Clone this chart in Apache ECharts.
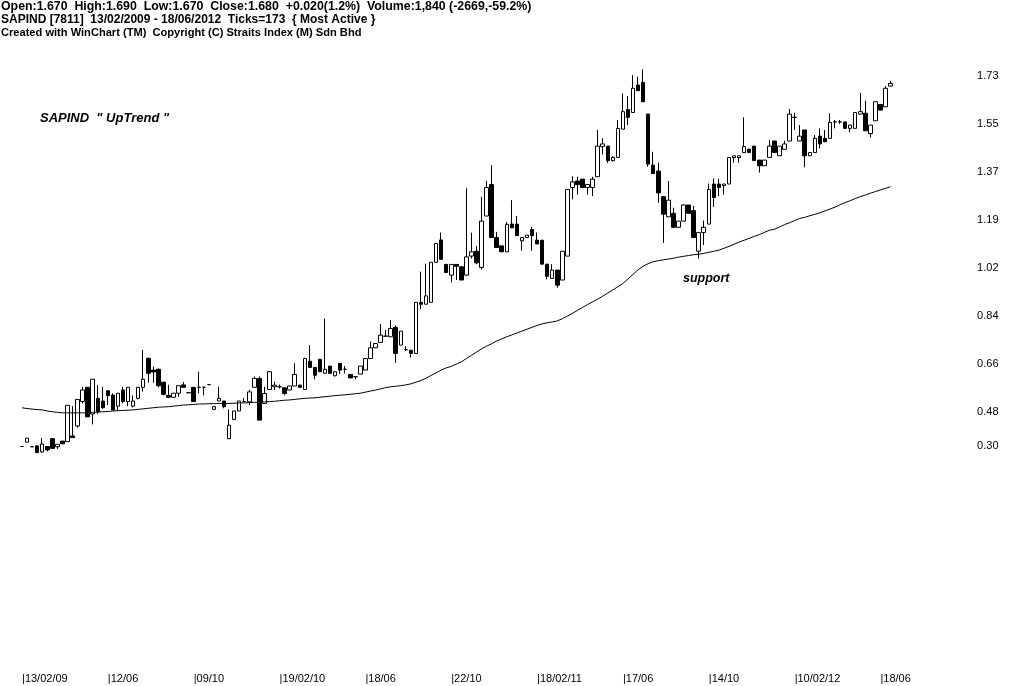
<!DOCTYPE html>
<html>
<head>
<meta charset="utf-8">
<script src="https://cdn.jsdelivr.net/npm/echarts@6/dist/echarts.min.js"></script>
<style>
html,body{margin:0;padding:0;background:#fff;}
#chart{width:1024px;height:686px;}
</style>
</head>
<body>
<div id="chart"></div>
<script>
// ---- data (weekly bars, 173 ticks) ----
const xTickLabels = ['13/02/09','12/06','09/10','19/02/10','18/06','22/10','18/02/11','17/06','14/10','10/02/12','18/06'];
const yTickLabels = ['0.30','0.48','0.66','0.84','1.02','1.19','1.37','1.55','1.73'];

const opens = [
.33,.346,.329,.332,.31,.33,.359,.329,.35,.348,
.369,.406,.497,.55,.451,.509,.499,.537,.521,.48,
.54,.497,.48,.509,.55,.658,.614,.617,.569,.52,
.513,.528,.559,.53,.55,.55,.55,.56,.468,.499,
.499,.359,.43,.462,.497,.496,.55,.583,.49,.542,
.552,.552,.548,.54,.555,.558,.542,.647,.624,.654,
.602,.629,.593,.639,.617,.598,.589,.599,.614,.657,
.697,.717,.74,.738,.773,.707,.69,.688,.676,.866,
.859,.866,1.015,1.098,1.007,.967,1.007,.998,.967,1.038,
1.056,.996,1.187,1.304,1.107,1.076,1.054,1.157,1.157,1.095,
1.107,1.137,1.097,1.097,1.008,.955,.986,.949,1.038,1.293,
1.317,1.324,1.293,1.293,1.333,1.445,1.447,1.393,1.405,1.51,
1.583,1.572,1.674,1.684,1.566,1.376,1.354,1.259,1.184,1.197,
1.145,1.168,1.228,1.207,1.056,1.126,1.157,1.306,1.306,1.30,
1.306,1.404,1.404,1.423,1.436,1.447,1.395,1.374,1.405,1.466,
1.411,1.435,1.466,1.554,1.466,1.507,1.411,1.423,1.484,1.476,
1.476,1.537,1.537,1.537,1.513,1.513,1.566,1.569,1.494,1.541,
1.602,1.593,1.67];

const closes = [
.33,.361,.329,.307,.339,.317,.323,.338,.34,.483,
.363,.505,.54,.44,.58,.459,.474,.519,.466,.528,
.497,.55,.499,.55,.58,.602,.607,.556,.524,.513,
.528,.556,.55,.53,.497,.55,.55,.56,.478,.509,
.478,.409,.462,.499,.497,.533,.583,.428,.527,.608,
.558,.552,.527,.555,.598,.55,.657,.624,.595,.608,
.617,.602,.608,.614,.617,.585,.589,.629,.657,.697,
.713,.744,.74,.769,.676,.759,.69,.676,.866,.859,
.89,1.015,1.085,1.026,.977,1.007,1.0,.949,1.035,1.054,
1.013,1.168,1.293,1.107,1.07,1.054,1.156,1.143,1.114,1.107,
1.116,1.114,1.083,1.008,.963,.986,.93,1.056,1.286,1.314,
1.304,1.293,1.304,1.324,1.447,1.455,1.393,1.405,1.513,1.575,
1.554,1.662,1.653,1.612,1.38,1.345,1.273,1.194,1.246,1.145,
1.168,1.228,1.197,1.107,1.126,1.145,1.286,1.256,1.293,1.306,
1.405,1.411,1.411,1.445,1.423,1.393,1.374,1.395,1.447,1.423,
1.447,1.455,1.566,1.554,1.484,1.411,1.423,1.476,1.455,1.463,
1.535,1.537,1.537,1.513,1.525,1.572,1.575,1.504,1.525,1.612,
1.581,1.662,1.68];

const lows = [
.33,.346,.329,.307,.307,.312,.323,.321,.34,.348,
.363,.40,.49,.44,.412,.45,.47,.484,.466,.462,
.49,.48,.475,.505,.534,.567,.567,.55,.52,.51,
.513,.515,.55,.53,.497,.528,.52,.56,.468,.499,
.472,.358,.43,.462,.497,.484,.55,.428,.49,.542,
.54,.545,.52,.54,.555,.55,.542,.624,.58,.608,
.602,.602,.59,.60,.602,.585,.58,.599,.614,.657,
.697,.717,.74,.738,.641,.707,.686,.661,.676,.84,
.859,.866,1.015,1.026,.977,.94,.949,.949,.967,1.029,
1.008,.988,1.187,1.107,1.07,1.054,1.054,1.143,1.114,1.058,
1.107,1.058,1.083,1.008,.951,.955,.92,.949,1.038,1.249,
1.267,1.293,1.267,1.261,1.333,1.416,1.385,1.389,1.405,1.51,
1.525,1.572,1.653,1.612,1.37,1.345,1.236,1.087,1.184,1.145,
1.145,1.168,1.197,1.107,1.029,1.079,1.157,1.221,1.261,1.267,
1.306,1.385,1.385,1.423,1.423,1.393,1.349,1.374,1.405,1.423,
1.411,1.435,1.466,1.507,1.466,1.368,1.411,1.423,1.438,1.463,
1.476,1.513,1.53,1.513,1.498,1.513,1.566,1.504,1.479,1.541,
1.581,1.593,1.67];

const highs = [
.33,.361,.329,.335,.361,.33,.359,.338,.35,.483,
.48,.505,.552,.55,.58,.559,.552,.54,.528,.528,
.552,.55,.52,.55,.689,.66,.627,.62,.569,.559,
.528,.556,.57,.53,.55,.608,.552,.56,.478,.552,
.499,.468,.462,.499,.51,.54,.59,.59,.552,.61,
.571,.56,.548,.555,.639,.56,.66,.707,.624,.654,
.806,.629,.608,.639,.629,.598,.589,.629,.657,.72,
.713,.785,.763,.80,.78,.759,.703,.688,.866,.98,
1.01,1.015,1.085,1.126,1.007,1.007,1.007,1.0,1.29,1.125,
1.075,1.259,1.318,1.376,1.128,1.076,1.165,1.246,1.187,1.107,
1.116,1.147,1.126,1.097,1.008,1.008,.986,1.056,1.286,1.335,
1.333,1.324,1.304,1.333,1.507,1.476,1.447,1.41,1.544,1.643,
1.633,1.711,1.705,1.732,1.566,1.426,1.385,1.259,1.317,1.218,
1.168,1.23,1.228,1.225,1.126,1.17,1.308,1.327,1.325,1.306,
1.405,1.411,1.411,1.554,1.436,1.447,1.395,1.395,1.47,1.466,
1.447,1.467,1.585,1.571,1.525,1.507,1.423,1.488,1.513,1.507,
1.569,1.544,1.544,1.537,1.525,1.572,1.645,1.616,1.525,1.612,
1.602,1.67,1.69];

const movingAvg = [
.474,.471,.469,.467,.466,.462,.459,.457,.455,.455,
.455,.455,.455,.456,.457,.458,.459,.460,.462,.463,
.464,.465,.466,.468,.470,.472,.474,.476,.477,.478,
.480,.482,.484,.485,.486,.488,.488,.489,.489,.490,
.490,.490,.491,.492,.492,.493,.494,.495,.496,.497,
.498,.500,.502,.503,.505,.507,.509,.510,.511,.513,
.515,.517,.519,.521,.522,.524,.526,.528,.532,.536,
.540,.544,.549,.552,.554,.556,.559,.563,.569,.575,
.584,.594,.604,.614,.622,.628,.636,.645,.657,.669,
.681,.693,.703,.712,.722,.730,.738,.745,.752,.759,
.766,.773,.780,.786,.790,.793,.797,.805,.815,.825,
.836,.847,.858,.868,.878,.889,.901,.912,.924,.936,
.953,.970,.987,1.000,1.010,1.017,1.021,1.024,1.027,1.030,
1.034,1.037,1.040,1.043,1.045,1.048,1.052,1.056,1.060,1.067,
1.074,1.082,1.090,1.097,1.104,1.111,1.118,1.126,1.134,1.138,
1.146,1.155,1.162,1.170,1.178,1.182,1.188,1.193,1.199,1.206,
1.213,1.220,1.229,1.237,1.244,1.252,1.259,1.265,1.272,1.278,
1.284,1.290,1.296];

const headerLines = [
  'Open:1.670  High:1.690  Low:1.670  Close:1.680  +0.020(1.2%)  Volume:1,840 (-2669,-59.2%)',
  'SAPIND [7811]  13/02/2009 - 18/06/2012  Ticks=173  { Most Active }',
  'Created with WinChart (TM)  Copyright (C) Straits Index (M) Sdn Bhd'
];

const TICK_EVERY = 17;

// ---- layout (pixels) ----
const GRID_TOP = 60, GRID_BOTTOM_PX = 652;
const LABEL_STEP_PX = 48;       // pixels between y labels
const TOP_LABEL_PX = 76;        // centre of the top y label
const TOP_VALUE_PX = 70;        // y pixel of price 1.73
const TOP_VALUE = 1.73;
const VALUE_STEP = 0.1785;      // price step between y labels
const PX_PER_UNIT = LABEL_STEP_PX / VALUE_STEP;

const yMax = TOP_VALUE + (TOP_VALUE_PX - GRID_TOP) / PX_PER_UNIT;
const yMin = TOP_VALUE - (GRID_BOTTOM_PX - TOP_VALUE_PX) / PX_PER_UNIT;
const topU = yTickLabels.length - 1;
const uMin = Math.round(topU - (GRID_BOTTOM_PX - TOP_LABEL_PX) / LABEL_STEP_PX);
const uMax = topU + (TOP_LABEL_PX - GRID_TOP) / LABEL_STEP_PX;

const categories = opens.map((_, i) => String(i));
const ohlc = opens.map((o, i) => [o, closes[i], lows[i], highs[i]]);

const FONT = "'Liberation Sans', Arial, sans-serif";
const headerSizes = [12.35, 12, 11.1];

const chart = echarts.init(document.getElementById('chart'), null, {renderer: 'canvas'});
chart.setOption({
  animation: false,
  backgroundColor: '#ffffff',
  grid: {left: 19.5, top: GRID_TOP, width: 873.6, height: GRID_BOTTOM_PX - GRID_TOP, containLabel: false},
  xAxis: {
    type: 'category',
    data: categories,
    boundaryGap: true,
    axisLine: {show: false},
    axisTick: {show: false},
    splitLine: {show: false},
    axisLabel: {
      interval: (idx) => idx % TICK_EVERY === 0,
      formatter: (val, idx) => '|' + (xTickLabels[Math.round(idx / TICK_EVERY)] || ''),
      align: 'left',
      margin: 21,
      color: '#000',
      fontSize: 11,
      fontFamily: FONT
    }
  },
  yAxis: [
    {
      type: 'value', min: yMin, max: yMax, position: 'right',
      axisLine: {show: false}, axisTick: {show: false}, splitLine: {show: false},
      axisLabel: {show: false}
    },
    {
      type: 'value', min: uMin, max: uMax, interval: 1, position: 'right',
      axisLine: {show: false}, axisTick: {show: false}, splitLine: {show: false},
      axisLabel: {
        align: 'left',
        margin: 84,
        color: '#000',
        fontSize: 11,
        fontFamily: FONT,
        verticalAlign: 'middle',
        showMaxLabel: true,
        formatter: (u) => {
          const k = Math.round(u);
          if (Math.abs(u - k) > 0.01 || k < 0 || k >= yTickLabels.length) return '';
          return k === 0 ? '{b|' + yTickLabels[k] + '}' : yTickLabels[k];
        },
        rich: {b: {fontSize: 11, fontFamily: FONT, color: '#000', padding: [0, 0, 28, 0]}}
      }
    }
  ],
  series: [
    {
      type: 'candlestick',
      data: ohlc,
      xAxisIndex: 0, yAxisIndex: 0,
      barWidth: 4,
      itemStyle: {color: '#ffffff', color0: '#000000', borderColor: '#000000', borderColor0: '#000000', borderWidth: 1},
      emphasis: {disabled: true}
    },
    {
      type: 'line',
      data: movingAvg,
      xAxisIndex: 0, yAxisIndex: 0,
      showSymbol: false,
      symbol: 'none',
      lineStyle: {color: '#000', width: 1},
      emphasis: {disabled: true}
    }
  ],
  graphic: headerLines.map((t, i) => ({
    type: 'text', left: 1, top: 1 + i * 13,
    style: {text: t, font: 'bold ' + headerSizes[i] + 'px ' + FONT, fill: '#000'}
  })).concat([
    {type: 'text', left: 40, top: 112, style: {text: 'SAPIND  " UpTrend "', font: 'italic bold 13px ' + FONT, fill: '#000'}},
    {type: 'text', left: 683, top: 272, style: {text: 'support', font: 'italic bold 12.5px ' + FONT, fill: '#000'}}
  ])
});
</script>
</body>
</html>
